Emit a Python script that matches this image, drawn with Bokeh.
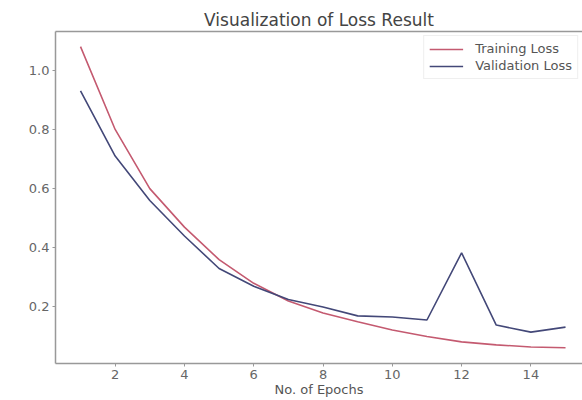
from bokeh.plotting import figure
from bokeh.models import Legend, LegendItem, Range1d, FixedTicker, NumeralTickFormatter, LinearAxis
from bokeh.embed import file_html
from bokeh.resources import INLINE

epochs = list(range(1, 16))
training_loss = [1.08, 0.80, 0.60, 0.47, 0.36, 0.28, 0.22, 0.18, 0.15, 0.122, 0.10, 0.082, 0.072, 0.065, 0.062]
validation_loss = [0.93, 0.71, 0.56, 0.44, 0.33, 0.27, 0.225, 0.20, 0.17, 0.166, 0.156, 0.383, 0.139, 0.115, 0.132]
x_ticks = [2, 4, 6, 8, 10, 12, 14]
y_ticks = [0.2, 0.4, 0.6, 0.8, 1.0]

p = figure(width=582, height=400, output_backend="svg", toolbar_location=None,
           x_range=Range1d(0.278, 15.49), y_range=Range1d(0.009, 1.131),
           min_border_left=55, min_border_right=0, min_border_top=31, min_border_bottom=37)
p.title.text = "Visualization of Loss Result"
p.title.align = "center"
p.title.text_font = "DejaVu Sans"
p.title.text_font_size = "17px"
p.title.text_font_style = "normal"
p.title.text_color = "#444444"
p.title.standoff = 3

p.xgrid.visible = False
p.ygrid.visible = False
p.outline_line_color = None

xa = p.below[0]
ya = p.left[0]
for ax in (xa, ya):
    ax.axis_line_color = "#999999"
    ax.axis_line_width = 1.5
    ax.major_tick_line_color = "#999999"
    ax.minor_tick_line_color = None
    ax.major_tick_in = 0
    ax.major_tick_out = 3
    ax.major_label_standoff = 3
    ax.major_label_text_font = "DejaVu Sans"
    ax.major_label_text_font_size = "13px"
    ax.major_label_text_color = "#666666"

xa.ticker = FixedTicker(ticks=x_ticks)
ya.ticker = FixedTicker(ticks=y_ticks)
ya.formatter = NumeralTickFormatter(format="0.0")
xa.axis_label = "No. of Epochs"
xa.axis_label_text_font = "DejaVu Sans"
xa.axis_label_text_font_size = "13px"
xa.axis_label_text_font_style = "normal"
xa.axis_label_text_color = "#555555"
xa.axis_label_standoff = 0

top = LinearAxis(ticker=FixedTicker(ticks=[]), major_tick_line_color=None,
                 minor_tick_line_color=None, major_tick_out=0, major_tick_in=0,
                 major_label_standoff=0, major_label_text_font_size="0px",
                 axis_line_color="#999999", axis_line_width=1.5)
p.add_layout(top, "above")

r1 = p.line(epochs, training_loss, line_color="#c45a70", line_width=1.6)
r2 = p.line(epochs, validation_loss, line_color="#434878", line_width=1.6)

legend = Legend(items=[LegendItem(label="Training Loss", renderers=[r1]),
                       LegendItem(label="Validation Loss", renderers=[r2])],
                location="top_right")
legend.label_text_font = "DejaVu Sans"
legend.label_text_font_size = "13px"
legend.label_text_color = "#555555"
legend.border_line_color = "#e0e0e0"
legend.glyph_width = 34
legend.glyph_height = 14
legend.label_height = 14
legend.label_standoff = 12
legend.spacing = 2
legend.padding = 5
legend.margin = 4
p.add_layout(legend)

open("out.html", "w").write(file_html(p, INLINE))
